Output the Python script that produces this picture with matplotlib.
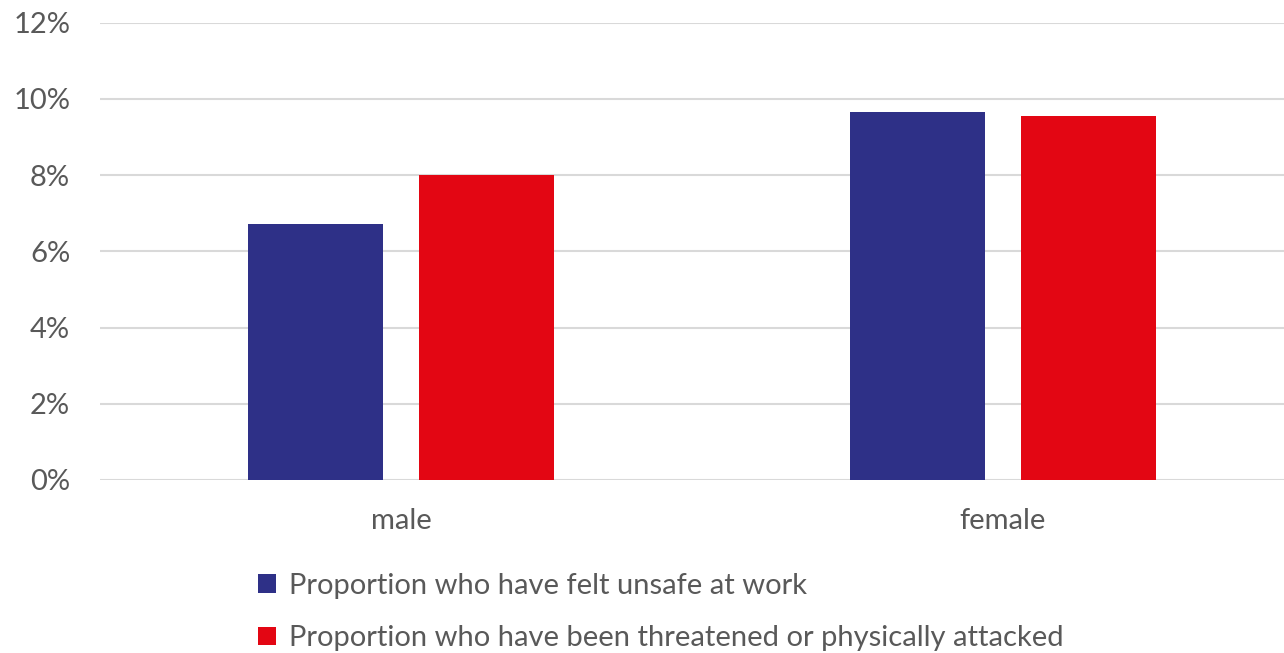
import matplotlib
matplotlib.use("Agg")
import matplotlib.pyplot as plt
import numpy as np
from matplotlib.patches import Patch
from matplotlib.ticker import FuncFormatter

categories = ["male", "female"]
felt_unsafe = [6.72, 9.66]
threatened = [8.0, 9.55]
series_labels = [
    "Proportion who have felt unsafe at work",
    "Proportion who have been threatened or physically attacked",
]
yticks = [0, 2, 4, 6, 8, 10, 12]

BLUE = "#2E3087"
RED = "#E30613"
TEXT = "#595959"
GRID = "#D9D9D9"

plt.rcParams["font.family"] = ["Lato", "DejaVu Sans"]

fig = plt.figure(figsize=(12.84, 6.53), dpi=100)
W, H = 1284, 653
ax = fig.add_axes([100 / W, (H - 480) / H, (W - 100) / W, (480 - 22.5) / H])

x = np.arange(len(categories))
width = 0.2244
offset = 0.142
ax.bar(x - offset, felt_unsafe, width, color=BLUE, zorder=3)
ax.bar(x + offset, threatened, width, color=RED, zorder=3)

ax.set_ylim(0, 12)
ax.set_xlim(-0.501, 1.467)
ax.set_yticks(yticks)
ax.yaxis.set_major_formatter(FuncFormatter(lambda v, _: f"{v:.0f}%"))
ax.set_xticks(x)
ax.set_xticklabels(categories)
ax.tick_params(axis="both", length=0, labelsize=21, colors=TEXT)
ax.tick_params(axis="y", pad=21.5)
ax.tick_params(axis="x", pad=20)
ax.grid(axis="y", color=GRID, linewidth=1.5, zorder=0)
for s in ax.spines.values():
    s.set_visible(False)

handles = [Patch(facecolor=BLUE), Patch(facecolor=RED)]
fig.legend(handles, series_labels, loc="upper left",
           bbox_to_anchor=(258 / W, 1 - 573 / H), frameon=False,
           fontsize=21, labelcolor=TEXT, handlelength=0.62, handleheight=0.62,
           handletextpad=0.45, labelspacing=0.9, borderaxespad=0,
           borderpad=0)

fig.savefig("out.png", dpi=100)
